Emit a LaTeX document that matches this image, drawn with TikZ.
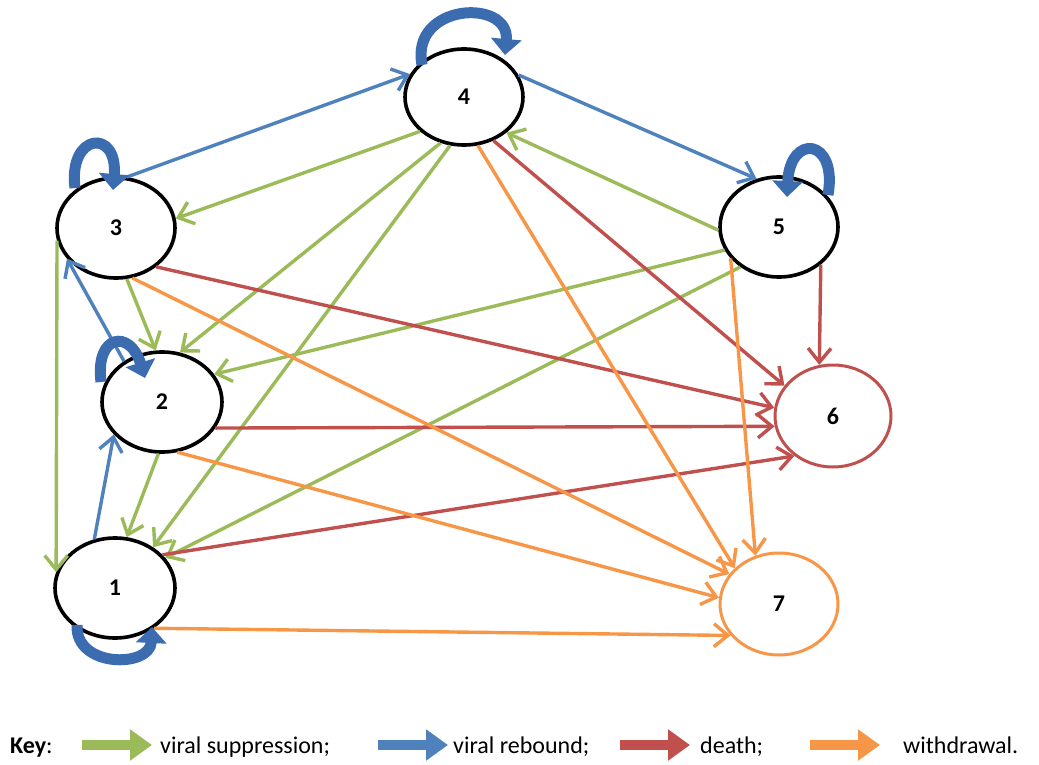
\documentclass[tikz,border=0pt]{standalone}
\usepackage{fontspec}
\setmainfont{Carlito}
\usetikzlibrary{shapes.geometric,arrows.meta,calc}
\definecolor{supp}{RGB}{155,187,89}
\definecolor{rebd}{RGB}{79,129,189}
\definecolor{loopblue}{RGB}{60,108,176}
\definecolor{dth}{RGB}{192,80,77}
\definecolor{wdr}{RGB}{247,150,70}
\begin{document}
\begin{tikzpicture}[x=1pt,y=-1pt,
  state/.style={ellipse,draw=black,line width=3.6pt,fill=white,inner sep=0pt,
    minimum width=118pt,minimum height=100pt,font=\fontsize{24}{24}\selectfont\bfseries},
  move/.style={line width=3.4pt,-{Straight Barb[length=14pt,width=23pt]}},
  suppr/.style={move,draw=supp},
  rebound/.style={move,draw=rebd},
  death/.style={move,draw=dth},
  withdr/.style={move,draw=wdr},
  selfloop/.style={draw=loopblue,line width=11pt,-{Triangle[length=16pt,width=30pt]}},
  keyarrow/.style={line width=10pt,-{Triangle[length=22pt,width=30pt]}},
  keytext/.style={anchor=base west,inner sep=0pt,font=\fontsize{24}{24}\selectfont}
]
\useasboundingbox (0,0) rectangle (1039,765);

% states
\node[state,minimum height=96pt] (n4) at (464,97) {4};
\node[state] (n3) at (116,228) {3};
\node[state] (n5) at (779,227) {5};
\node[state,minimum width=120pt] (n2) at (162,402) {2};
\node[state,minimum width=120pt] (n1) at (115,588) {1};
\node[state,draw=dth,line width=3pt,minimum width=116pt,minimum height=102pt] (n6) at (833,416) {6};
\node[state,draw=wdr,line width=3pt,minimum height=102pt] (n7) at (779,604) {7};

% viral rebound
\draw[rebound] (n3.78) -- (n4.157);
\draw[rebound] (n4.22) -- (n5.115);
\draw[rebound] (n1.113) -- (n2.214);
\draw[rebound] (n2.133) -- (n3.212);

% viral suppression
\draw[suppr] (n4.218) -- (n3.9);
\draw[suppr] (n4.243) -- (n2.70);
\draw[suppr] (n4.254) -- (n1.47);
\draw[suppr] (n5.183) -- (n4.320);
\draw[suppr] (n5.203) -- (n2.28);
\draw[suppr] (n5.226) -- (n1.31);
\draw[suppr] (n3.192) -- (n1.165);
\draw[suppr] (n3.282) -- (n2.97);
\draw[suppr] (n2.266) -- (n1.77);

% death
\draw[death] (n3.316) -- (n6.172);
\draw[death] (n4.304) -- (n6.148);
\draw[death] (n5.318) -- (n6.105);
\draw[death] (n2.334) -- (n6.190);
\draw[death] (n1.35) -- (n6.226);

% withdrawal
\draw[withdr] (n3.288) -- (n7.149);
\draw[withdr] (n4.286) -- (n7.141);
\draw[withdr] (n5.213) -- (n7.116);
\draw[withdr] (n2.287) -- (n7.174);
\draw[withdr] (n1.314) -- (n7.213);

% staying in the same state
\draw[selfloop] ($(n4)+(-42,-32)$) .. controls ($(n4)+(-54,-94)$) and ($(n4)+(46,-99)$) .. ($(n4)+(41,-42)$);
\draw[selfloop] ($(n3)+(-41,-40)$) .. controls ($(n3)+(-48,-95)$) and ($(n3)+(2,-100)$) .. ($(n3)+(-3,-38)$);
\draw[selfloop] ($(n5)+(49,-32)$) .. controls ($(n5)+(59,-89)$) and ($(n5)+(11,-94)$) .. ($(n5)+(8,-30)$);
\draw[selfloop] ($(n2)+(-61,-20)$) .. controls ($(n2)+(-67,-68)$) and ($(n2)+(-32,-73)$) .. ($(n2)+(-17,-24)$);
\draw[selfloop] ($(n1)+(-38,37)$) .. controls ($(n1)+(-40,80)$) and ($(n1)+(35,80)$) .. ($(n1)+(37,39)$);

% key
\node[keytext] (key) at (10,753) {\textbf{Key}:};
\coordinate (ka0) at (82,745);  \coordinate (ka1) at (152,745);
\coordinate (kb0) at (378,745); \coordinate (kb1) at (448,745);
\coordinate (kc0) at (620,745); \coordinate (kc1) at (690,745);
\coordinate (kd0) at (810,745); \coordinate (kd1) at (880,745);
\draw[keyarrow,supp] (ka0) -- (ka1);
\draw[keyarrow,rebd] (kb0) -- (kb1);
\draw[keyarrow,dth] (kc0) -- (kc1);
\draw[keyarrow,wdr] (kd0) -- (kd1);
\node[keytext] (ks) at (160,753) {viral suppression;};
\node[keytext] (kr) at (453,753) {viral rebound;};
\node[keytext] (kd) at (700,753) {death;};
\node[keytext] (kw) at (903,753) {withdrawal.};
\end{tikzpicture}
\end{document}
